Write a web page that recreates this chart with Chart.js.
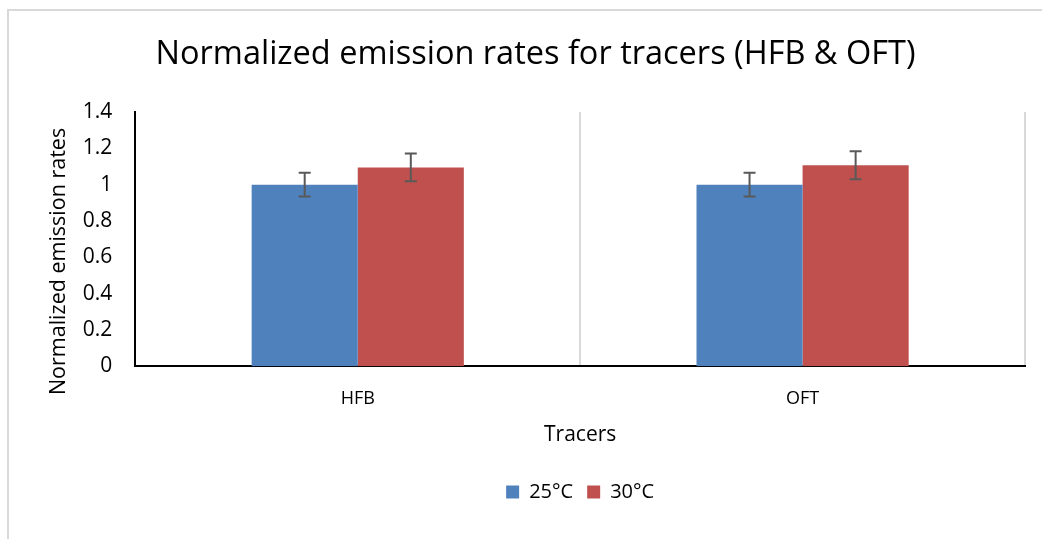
<!DOCTYPE html>
<html>
<head>
<meta charset="utf-8">
<script src="https://cdn.jsdelivr.net/npm/chart.js@4.4.9/dist/chart.umd.min.js"></script>
<style>
  html, body { margin: 0; padding: 0; background: #fff; overflow: hidden; }
  #frame { position: absolute; left: 7px; top: 9px; width: 1200px; height: 700px;
           border-top: 2px solid #d9d9d9; border-left: 2px solid #d9d9d9; }
  #wrap { position: absolute; left: 0; top: 0; width: 1042px; height: 539px; }
</style>
</head>
<body>
<div id="frame"></div>
<div id="wrap"><canvas id="chart" width="1042" height="539"></canvas></div>
<script>
// Daten
const tracers = ['HFB', 'OFT'];
const seriesNames = ['25°C', '30°C'];
const rate25 = [1.0, 1.0];
const rate30 = [1.095, 1.107];
const err25 = [0.066, 0.066];
const err30 = [0.077, 0.077];
const yTicks = [0, 0.2, 0.4, 0.6, 0.8, 1, 1.2, 1.4];

const FONT = '"Open Sans", Lato, sans-serif';

// Fehlerbalken selber zeichnen
const errorBars = {
    id: 'errorBars',
    afterDatasetsDraw(chart) {
        const ctx = chart.ctx;
        const y = chart.scales.y;
        chart.data.datasets.forEach((ds, i) => {
            const meta = chart.getDatasetMeta(i);
            meta.data.forEach((bar, j) => {
                const v = ds.data[j], e = ds.errors[j];
                const top = y.getPixelForValue(v + e);
                const bot = y.getPixelForValue(v - e);
                ctx.save();
                ctx.strokeStyle = '#595959';
                ctx.lineWidth = 2;
                ctx.beginPath();
                ctx.moveTo(bar.x, top); ctx.lineTo(bar.x, bot);
                ctx.moveTo(bar.x - 6, top); ctx.lineTo(bar.x + 6, top);
                ctx.moveTo(bar.x - 6, bot); ctx.lineTo(bar.x + 6, bot);
                ctx.stroke();
                ctx.restore();
            });
        });
    }
};

new Chart(document.getElementById('chart'), {
    type: 'bar',
    data: {
        labels: tracers,
        datasets: [
            { label: seriesNames[0], data: rate25, errors: err25, backgroundColor: '#4F81BD' },
            { label: seriesNames[1], data: rate30, errors: err30, backgroundColor: '#C0504D' }
        ]
    },
    options: {
        responsive: false,
        animation: false,
        devicePixelRatio: 1,
        layout: { padding: { left: 46, right: 17, top: 10, bottom: 27 } },
        datasets: { bar: { barPercentage: 1, categoryPercentage: 0.477 } },
        plugins: {
            title: {
                display: true,
                text: 'Normalized emission rates for tracers (HFB & OFT)',
                color: '#000',
                font: { family: FONT, size: 32.5, weight: 'normal' },
                padding: { top: 25, bottom: 38 }
            },
            legend: {
                position: 'bottom',
                fullSize: false,
                labels: {
                    color: '#000',
                    font: { family: FONT, size: 20 },
                    boxWidth: 13, boxHeight: 13, padding: 14
                }
            },
            tooltip: { enabled: false }
        },
        scales: {
            x: {
                grid: { display: true, offset: true, color: '#d9d9d9', lineWidth: 2, drawTicks: false },
                border: { display: true, color: '#000', width: 2 },
                ticks: { color: '#000', font: { family: FONT, size: 18 }, padding: 22 },
                title: { display: true, text: 'Tracers', color: '#000',
                         font: { family: FONT, size: 21 }, padding: { top: -9, bottom: 20 } }
            },
            y: {
                min: 0, max: 1.4,
                afterBuildTicks(axis) { axis.ticks = yTicks.map(v => ({ value: v })); },
                grid: { display: false, drawTicks: false },
                border: { display: true, color: '#000', width: 2 },
                ticks: { color: '#000', font: { family: FONT, size: 21 }, padding: 23,
                         callback: v => String(v) },
                // trailing spaces push the title down like in the original
                title: { display: true, text: 'Normalized emission rates        ', color: '#000',
                         font: { family: FONT, size: 21.5 }, padding: { top: 0, bottom: -12 } }
            }
        }
    },
    plugins: [errorBars]
});
</script>
</body>
</html>
